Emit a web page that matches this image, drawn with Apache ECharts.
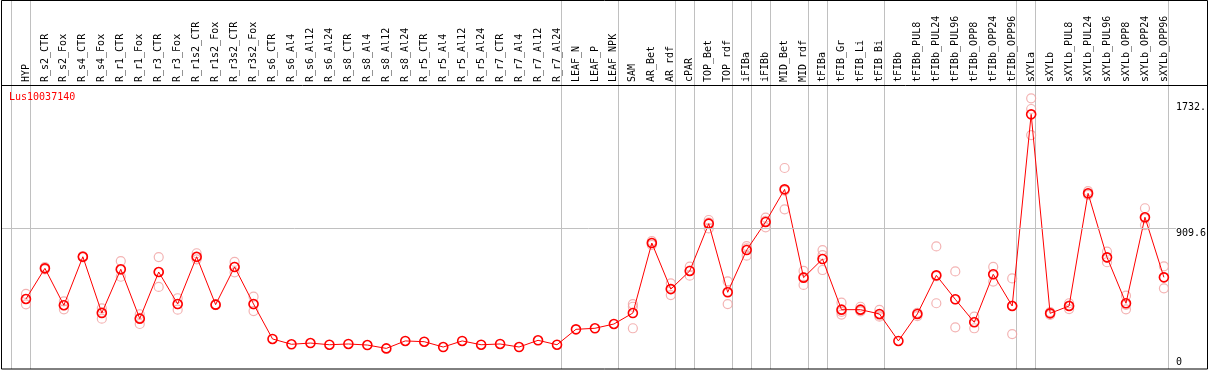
<!DOCTYPE html>
<html>
<head>
<meta charset="utf-8">
<script src="https://cdn.jsdelivr.net/npm/echarts@6/dist/echarts.min.js"></script>
<style>
html,body{margin:0;padding:0;background:#fff;}
#chart{width:1209px;height:370px;}
</style>
</head>
<body>
<div id="chart"></div>
<script>
const geneName = 'Lus10037140';
const categories = ['HYP','R_s2_CTR','R_s2_Fox','R_s4_CTR','R_s4_Fox','R_r1_CTR','R_r1_Fox','R_r3_CTR','R_r3_Fox','R_r1s2_CTR','R_r1s2_Fox','R_r3s2_CTR','R_r3s2_Fox','R_s6_CTR','R_s6_Al4','R_s6_Al12','R_s6_Al24','R_s8_CTR','R_s8_Al4','R_s8_Al12','R_s8_Al24','R_r5_CTR','R_r5_Al4','R_r5_Al12','R_r5_Al24','R_r7_CTR','R_r7_Al4','R_r7_Al12','R_r7_Al24','LEAF_N','LEAF_P','LEAF_NPK','SAM','AR_Bet','AR_rdf','cPAR','TOP_Bet','TOP_rdf','iFIBa','iFIBb','MID_Bet','MID_rdf','tFIBa','tFIB_Gr','tFIB_Li','tFIB_Bi','tFIBb','tFIBb_PUL8','tFIBb_PUL24','tFIBb_PUL96','tFIBb_OPP8','tFIBb_OPP24','tFIBb_OPP96','sXYLa','sXYLb','sXYLb_PUL8','sXYLb_PUL24','sXYLb_PUL96','sXYLb_OPP8','sXYLb_OPP24','sXYLb_OPP96'];
const means = [446,647,405,723,354,641,317,623,413,723,409,656,413,184,149,157,146,151,144,122,171,166,131,171,146,151,131,175,146,247,254,282,354,813,511,630,940,490,767,951,1165,586,708,376,376,348,171,348,601,444,293,608,400,1657,352,400,1139,719,418,982,588];
const replicates = [[479,446,411],[655,647,640],[431,405,378],[727,723,719],[385,360,317],[695,636,592],[346,323,282],[721,623,525],[451,413,376],[746,718,706],[412,409,405],[689,657,621],[461,411,367],[],[],[],[],[],[],[],[],[],[],[],[],[],[],[],[],[],[],[],[413,395,254],[826,813,800],[549,512,472],[658,632,599],[964,947,909],[562,495,413],[793,778,730],[979,958,916],[1305,1156,1034],[630,590,538],[767,734,636],[422,362,344],[395,369,364],[374,338,330],[],[355,353,334],[791,595,418],[627,444,260],[330,296,254],[656,607,560],[581,402,216],[1762,1692,1521],[360,355,341],[418,402,380],[1154,1135,1128],[756,716,687],[468,408,378],[1041,975,931],[660,588,516]];
const groupEndsAfter = [-1,0,28,31,34,35,37,38,39,41,42,45,52,53,60];
const yTickValues = [0, 909.6, 1732];
const yTickLabels = ['0', '909.6', '1732.'];
const yMax = 1849.4;
const xMin = -25/19, xMax = (1178-26)/19;

const font = 'DejaVu Sans Mono';
const chart = echarts.init(document.getElementById('chart'), null, {renderer:'canvas'});
const repData = [];
replicates.forEach((arr,i)=>arr.forEach(v=>repData.push([i,v])));
const yLab = v => { const k = yTickValues.indexOf(v); return k>=0 ? yTickLabels[k] : ''; };

chart.setOption({
  animation:false,
  backgroundColor:'#fff',
  title:{text:geneName,left:9,top:92,padding:0,textStyle:{color:'#ff0000',fontSize:10,fontWeight:'normal',fontFamily:font}},
  grid:{left:1,top:85,width:1177,bottom:3,containLabel:false},
  xAxis:{type:'value',position:'top',min:xMin,max:xMax,
    axisLine:{show:false},axisTick:{show:false},splitLine:{show:false},
    axisLabel:{customValues:categories.map((c,i)=>i),formatter:v=>categories[Math.round(v)]||'',rotate:90,margin:3,fontSize:10,fontFamily:font,color:'#000'}},
  yAxis:[
    {type:'value',position:'right',min:0,max:yMax,axisLine:{show:false},axisTick:{show:false},splitLine:{show:false},
     axisLabel:{customValues:[yTickValues[1],yTickValues[2]],formatter:yLab,verticalAlign:'top',align:'left',margin:0,fontSize:10,fontFamily:font,color:'#000'}},
    {type:'value',position:'right',min:0,max:yMax,axisLine:{show:false},axisTick:{show:false},splitLine:{show:false},
     axisLabel:{customValues:[yTickValues[0]],formatter:yLab,verticalAlign:'bottom',align:'left',margin:0,fontSize:10,fontFamily:font,color:'#000'}}
  ],
  series:[
    {type:'scatter',data:repData,symbol:'circle',symbolSize:9,silent:true,
     itemStyle:{color:'transparent',borderColor:'#f0a0a0',borderWidth:1.2},z:2},
    {type:'line',data:means.map((v,i)=>[i,v]),symbol:'circle',symbolSize:9,showAllSymbol:true,silent:true,
     lineStyle:{color:'#ff0000',width:1},
     itemStyle:{color:'transparent',borderColor:'#ff0000',borderWidth:1.6},z:3,
     markLine:{silent:true,symbol:'none',label:{show:false},lineStyle:{color:'#c0c0c0',width:1,type:'solid'},data:[{yAxis:yTickValues[1]}]}}
  ]
});

const g = [];
groupEndsAfter.forEach(i=>{
  const x = Math.round(chart.convertToPixel({xAxisIndex:0}, i + 0.22)) + 0.5;
  g.push({type:'line',shape:{x1:x,y1:0,x2:x,y2:369},style:{stroke:'#c0c0c0',lineWidth:1},z:1,silent:true});
});
g.push({type:'line',shape:{x1:1,y1:85.5,x2:1207,y2:85.5},style:{stroke:'#000',lineWidth:1},z:10,silent:true});
g.push({type:'rect',shape:{x:1.5,y:0.5,width:1206,height:368.5},style:{fill:null,stroke:'#000',lineWidth:1},z:10,silent:true});
chart.setOption({graphic:g});
</script>
</body>
</html>
